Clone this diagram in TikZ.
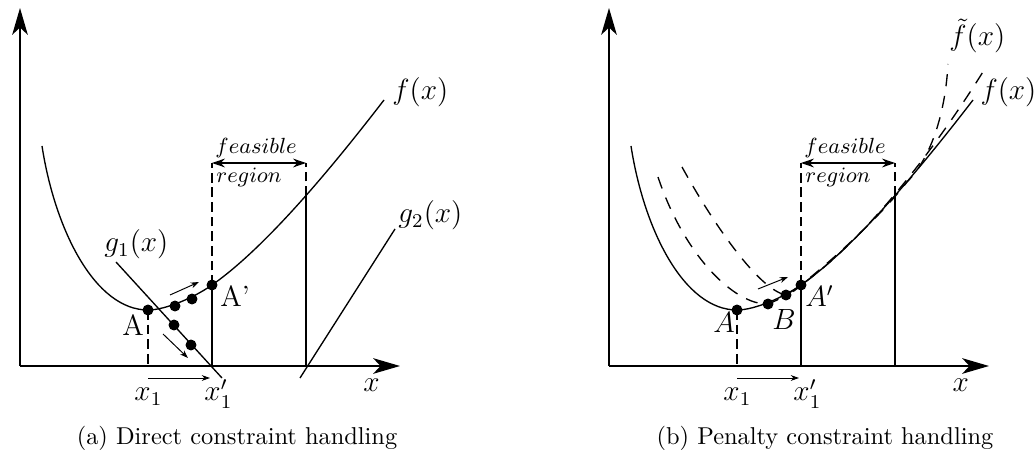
\documentclass[tikz,border=0pt]{standalone}
\usetikzlibrary{arrows.meta}
\begin{document}
\begin{tikzpicture}[x=0.41pt,y=-0.41pt,
  axis/.style={line width=0.8pt,-{Stealth[length=11pt,width=6.4pt,inset=3pt]}},
  curve/.style={line width=0.55pt},
  guide/.style={line width=0.7pt,dash pattern=on 4pt off 2pt},
  pen/.style={line width=0.55pt,dash pattern=on 5pt off 4pt},
  bound/.style={line width=0.6pt},
  dot/.style={circle,fill,inner sep=0pt,minimum size=4.5pt},
  move/.style={line width=0.4pt,-{Stealth[length=3.4pt,width=2.4pt]}},
  span/.style={line width=0.7pt,{Stealth[length=5.3pt,width=3.6pt]}-{Stealth[length=5.3pt,width=3.6pt]}},
  lab/.style={font=\large,inner sep=0pt,anchor=base west},
  small/.style={font=\fontsize{8.6}{10}\selectfont,inner sep=0pt,anchor=base west},
  captext/.style={inner sep=0pt,anchor=base}
]
\useasboundingbox (0,0) rectangle (1034,450);

% ---------------- panel (a) ----------------
\coordinate (aO) at (20,366);
\coordinate (aY) at (20,8);
\coordinate (aX) at (400,366);
\coordinate (aA) at (148,310);
\coordinate (aP1) at (175,306);
\coordinate (aP2) at (192,299);
\coordinate (aAp) at (212,285);
\coordinate (aQ1) at (174,325);
\coordinate (aQ2) at (191,345);
\coordinate (aL) at (212,163);
\coordinate (aR) at (306,163);
\coordinate (aRf) at (306,196);
\coordinate (aFs) at (42,146);
\coordinate (aFe) at (384,100);
\coordinate (aG1s) at (116,262);
\coordinate (aG1e) at (222,378);
\coordinate (aG2s) at (300,378);
\coordinate (aG2e) at (395,229);
\coordinate (aM1s) at (170,295);
\coordinate (aM1e) at (199,282);
\coordinate (aM2s) at (163,334);
\coordinate (aM2e) at (188,358);
\coordinate (aM3s) at (148,378);
\coordinate (aM3e) at (210,378);

\draw[axis] (aO) -- (aY);
\draw[axis] (aO) -- (aX);
\draw[curve] (aFs) .. controls (55,230) and (95,310) .. (aA)
  .. controls (166,310) and (195,297) .. (aAp)
  .. controls (262,250) and (324,178) .. (aFe);
\draw[guide] (aA) -- (aA |- aO);
\draw[guide] (aAp) -- (aL);
\draw[bound] (aAp) -- (aAp |- aO);
\draw[guide] (aRf) -- (aR);
\draw[bound] (aRf) -- (aRf |- aO);
\draw[span] (aL) -- (aR);
\draw[curve] (aG1s) -- (aG1e);
\draw[curve] (aG2s) -- (aG2e);
\draw[move] (aM1s) -- (aM1e);
\draw[move] (aM2s) -- (aM2e);
\draw[move] (aM3s) -- (aM3e);

\node[dot] (aAd) at (aA) {};
\node[dot] (aP1d) at (aP1) {};
\node[dot] (aP2d) at (aP2) {};
\node[dot] (aApd) at (aAp) {};
\node[dot] (aQ1d) at (aQ1) {};
\node[dot] (aQ2d) at (aQ2) {};

\node[lab] (aflab) at (392,100) {$f(x)$};
\node[lab] (ag2lab) at (398,223) {$g_2(x)$};
\node[lab] (ag1lab) at (104,252) {$g_1(x)$};
\node[lab] (aAlab) at (122,336) {A};
\node[lab] (aAplab) at (220,307) {A'};
\node[lab] (ax1lab) at (134,401) {$x_1$};
\node[lab] (ax1plab) at (204,401) {$x'_1$};
\node[lab] (axlab) at (363,392) {$x$};
\node[small] (afeas) at (215,154) {$feasible$};
\node[small] (areg) at (216,183) {$region$};
\node[captext] (acap) at (237,445) {(a) Direct constraint handling};

% ---------------- panel (b) ----------------
\begin{scope}[shift={(589,0)}]
\coordinate (bO) at (20,366);
\coordinate (bY) at (20,8);
\coordinate (bX) at (400,366);
\coordinate (bA) at (148,310);
\coordinate (bB) at (179,304);
\coordinate (bP2) at (197,295);
\coordinate (bAp) at (212,285);
\coordinate (bL) at (212,163);
\coordinate (bR) at (306,163);
\coordinate (bRf) at (306,196);
\coordinate (bFs) at (42,146);
\coordinate (bFe) at (384,100);
\coordinate (bC1s) at (69,177);
\coordinate (bC1e) at (397,67);
\coordinate (bC2s) at (93,167);
\coordinate (bC2m) at (318,182);
\coordinate (bC2e) at (359,64);
\coordinate (bM1s) at (169,289);
\coordinate (bM1e) at (199,277);
\coordinate (bM3s) at (148,378);
\coordinate (bM3e) at (210,378);

\draw[axis] (bO) -- (bY);
\draw[axis] (bO) -- (bX);
\draw[pen] (bC1s) .. controls (95,255) and (145,305) .. (bB)
  .. controls (190,300) and (202,292) .. (bAp)
  .. controls (262,250) and (330,175) .. (bC1e);
\draw[pen] (bC2s) .. controls (125,225) and (170,290) .. (bP2)
  .. controls (203,293) and (208,289) .. (bAp)
  .. controls (252,253) and (292,215) .. (bC2m)
  .. controls (340,160) and (356,118) .. (bC2e);
\draw[curve] (bFs) .. controls (55,230) and (95,310) .. (bA)
  .. controls (166,310) and (195,297) .. (bAp)
  .. controls (262,250) and (324,178) .. (bFe);
\draw[guide] (bA) -- (bA |- bO);
\draw[guide] (bAp) -- (bL);
\draw[bound] (bAp) -- (bAp |- bO);
\draw[guide] (bRf) -- (bR);
\draw[bound] (bRf) -- (bRf |- bO);
\draw[span] (bL) -- (bR);
\draw[move] (bM1s) -- (bM1e);
\draw[move] (bM3s) -- (bM3e);

\node[dot] (bAd) at (bA) {};
\node[dot] (bBd) at (bB) {};
\node[dot] (bP2d) at (bP2) {};
\node[dot] (bApd) at (bAp) {};

\node[lab] (bftlab) at (360,46) {$\tilde f(x)$};
\node[lab] (bflab) at (391,100) {$f(x)$};
\node[lab] (bAlab) at (124,333) {$A$};
\node[lab] (bBlab) at (183,330) {$B$};
\node[lab] (bAplab) at (216,307) {$A'$};
\node[lab] (bx1lab) at (134,401) {$x_1$};
\node[lab] (bx1plab) at (204,401) {$x'_1$};
\node[lab] (bxlab) at (363,392) {$x$};
\node[small] (bfeas) at (215,154) {$feasible$};
\node[small] (breg) at (216,183) {$region$};
\node[captext] (bcap) at (236,445) {(b) Penalty constraint handling};
\end{scope}
\end{tikzpicture}
\end{document}
